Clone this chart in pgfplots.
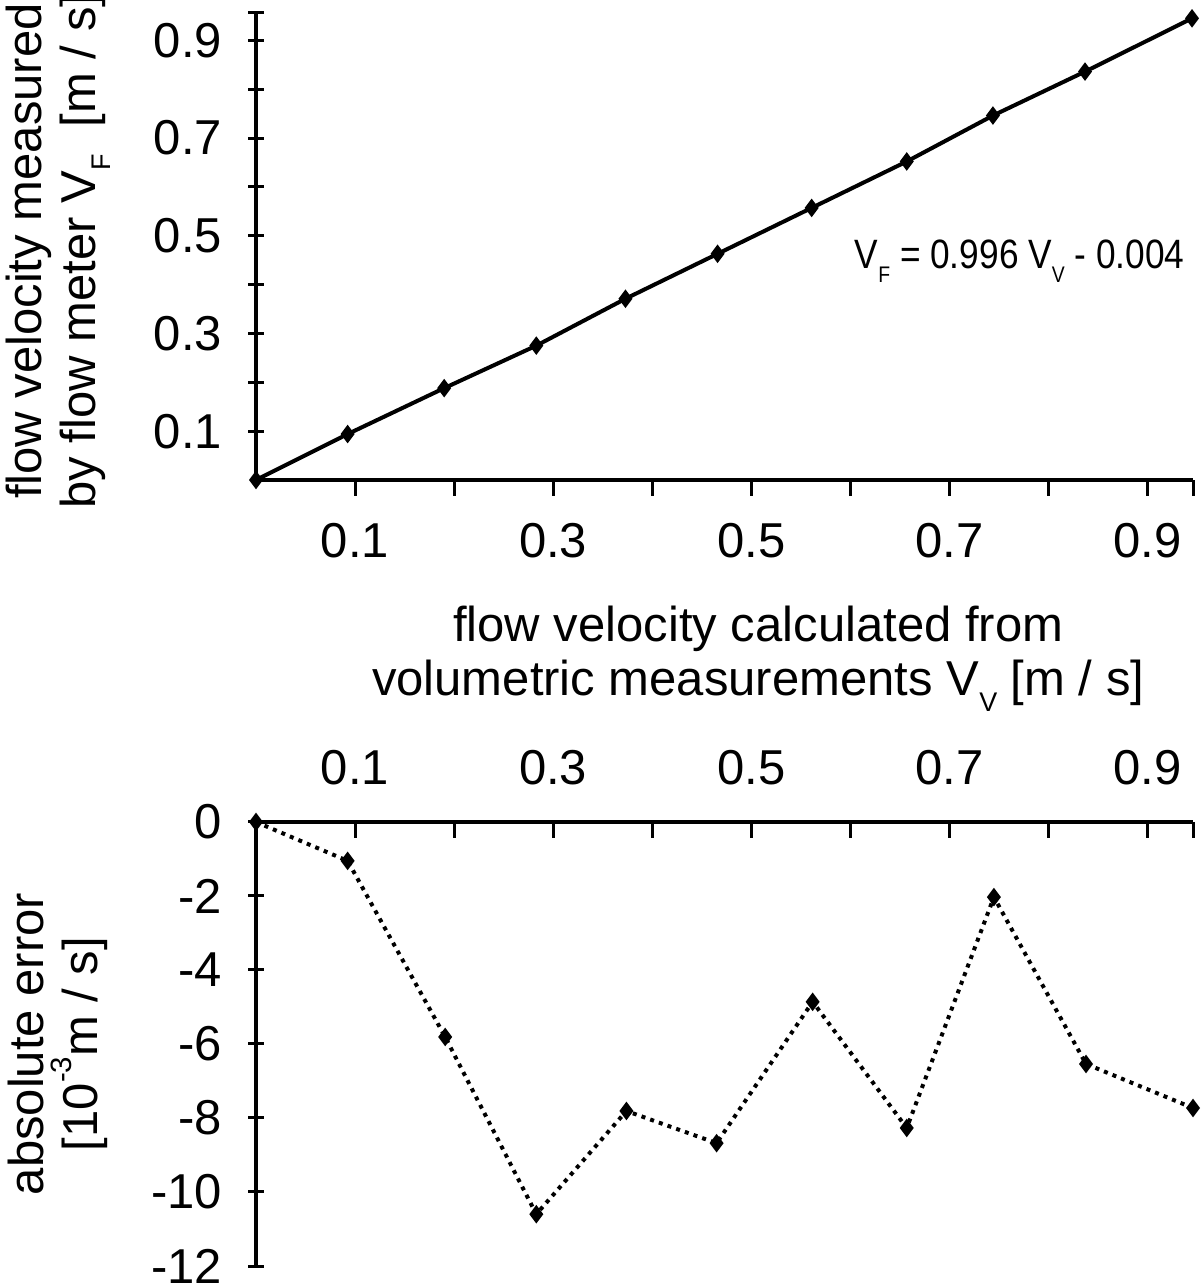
\documentclass[border=0pt]{standalone}
\usepackage{fontspec}
\setmainfont{Liberation Sans}
\usepackage{graphicx}
\usepackage{pgfplots}
\pgfplotsset{compat=1.18}
\newcommand\lowsub[1]{\raisebox{-0.32em}{\scalebox{0.55}{#1}}}
\pgfplotsset{
  myax/.style={
    scale only axis, width=468.5pt, anchor=south west,
    xmin=0, xmax=0.946, clip=false,
    axis line style={line width=2.4pt, -},
    every tick/.style={line width=1.5pt, black},
    major tick length=8pt,
    font=\fontsize{24.5}{27}\selectfont,
    xtick={0.1,0.2,0.3,0.4,0.5,0.6,0.7,0.8,0.9,0.946},
    xticklabels={0.1,,0.3,,0.5,,0.7,,0.9,},
    yticklabel style={xshift=-9.5pt},
  }
}
\begin{document}
\begin{tikzpicture}[x=1pt,y=1pt]
\path[use as bounding box] (0,0) rectangle (600,642);
\begin{axis}[myax, at={(128pt,402pt)}, height=233.5pt,
  ymin=0, ymax=0.956,
  axis x line*=bottom, axis y line*=left,
  xtick align=outside, ytick align=center,
  xticklabel style={yshift=-10pt},
  ytick={0.1,0.2,0.3,0.4,0.5,0.6,0.7,0.8,0.9,0.956},
  yticklabels={0.1,,0.3,,0.5,,0.7,,0.9,},
  xlabel={flow velocity calculated from\\volumetric measurements V\lowsub{V} [m / s]},
  x label style={at={(axis description cs:0.536,-0.255)}, anchor=north, align=center},
  ylabel={flow velocity measured\\by flow meter V\lowsub{F}\ \ [m / s]},
  y label style={at={(axis description cs:-0.211,0.49)}, anchor=center, align=center},
]
\addplot[black, line width=2pt, mark=diamond*, mark size=3pt] coordinates {
(0,0) (0.0925,0.094) (0.190,0.188) (0.283,0.275) (0.373,0.371) (0.466,0.463)
(0.561,0.557) (0.657,0.652) (0.744,0.746) (0.837,0.836) (0.945,0.945)};
\node[anchor=base, font=\fontsize{20.5}{24}\selectfont] at (axis cs:0.771,0.432)
  {\scalebox{0.86}[1]{V\lowsub{F} = 0.996 V\lowsub{V} - 0.004}};
\end{axis}
\begin{axis}[myax, at={(128pt,9pt)}, height=222pt,
  ymin=-12, ymax=0,
  axis x line*=top, axis y line*=left,
  xtick align=inside, ytick align=center,
  xticklabel style={yshift=15pt},
  ytick={-12,-10,-8,-6,-4,-2,0},
  yticklabels={-12,-10,-8,-6,-4,-2,0},
  ylabel={absolute error\\{[}10\raisebox{0.55em}{\scalebox{0.6}{-3}}m / s{]}},
  y label style={at={(axis description cs:-0.211,0.5)}, anchor=center, align=center},
]
\addplot[black, line width=2pt, dash pattern=on 2pt off 2.6pt, mark=diamond*, mark size=3pt, mark options={solid}] coordinates {
(0,0) (0.0925,-1.05) (0.191,-5.81) (0.283,-10.6) (0.374,-7.81) (0.465,-8.68)
(0.562,-4.86) (0.657,-8.27) (0.745,-2.03) (0.838,-6.54) (0.946,-7.73)};
\end{axis}
\end{tikzpicture}
\end{document}
